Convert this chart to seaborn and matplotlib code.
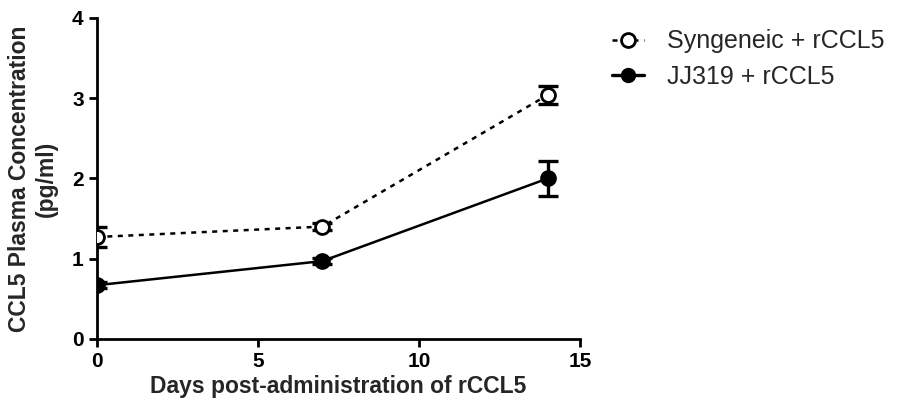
import matplotlib
matplotlib.use("Agg")
import matplotlib.pyplot as plt
import seaborn as sns
import pandas as pd
from matplotlib.lines import Line2D

# Plasma CCL5 after rCCL5 administration (mean ± SEM)
days = [0, 7, 14]
syngeneic_mean = [1.27, 1.40, 3.04]
syngeneic_sem = [0.13, 0.04, 0.11]
jj319_mean = [0.67, 0.97, 2.00]
jj319_sem = [0.04, 0.04, 0.22]
group_names = ["Syngeneic + rCCL5", "JJ319 + rCCL5"]
x_ticks = [0, 5, 10, 15]
y_ticks = [0, 1, 2, 3, 4]

df = pd.DataFrame({
    "day": days * 2,
    "conc": syngeneic_mean + jj319_mean,
    "sem": syngeneic_sem + jj319_sem,
    "group": [group_names[0]] * 3 + [group_names[1]] * 3,
})

sns.set_style("ticks")
plt.rcParams["font.family"] = ["Liberation Sans", "DejaVu Sans"]

fig = plt.figure(figsize=(9.05, 4.05), dpi=100)
ax = fig.add_axes([0.107, 0.163, 0.534, 0.793])

dotted = (0, (2, 2.2))
styles = {
    group_names[0]: dict(mfc="white", ls=dotted),
    group_names[1]: dict(mfc="black", ls="-"),
}

for name, sub in df.groupby("group", sort=False):
    st = styles[name]
    ax.errorbar(sub["day"], sub["conc"], yerr=sub["sem"], fmt="none",
                ecolor="black", elinewidth=2.4, capsize=7, capthick=2.4, zorder=2)
    sns.lineplot(data=sub, x="day", y="conc", ax=ax, color="black",
                 linestyle=st["ls"], linewidth=1.8, marker="o", markersize=10,
                 markerfacecolor=st["mfc"], markeredgecolor="black",
                 markeredgewidth=2.0, errorbar=None, zorder=3)

ax.set_xlim(0, 15)
ax.set_ylim(0, 4)
ax.set_xticks(x_ticks)
ax.set_yticks(y_ticks)
for s in ["top", "right"]:
    ax.spines[s].set_visible(False)
for s in ["left", "bottom"]:
    ax.spines[s].set_linewidth(2.0)
    ax.spines[s].set_color("black")
ax.tick_params(axis="both", direction="out", length=6, width=2.0, colors="black",
               labelsize=15)
for lbl in ax.get_xticklabels() + ax.get_yticklabels():
    lbl.set_fontweight("bold")

ax.set_xlabel("Days post-administration of rCCL5", fontsize=16.5,
              fontweight="bold", labelpad=3)
ax.set_ylabel("CCL5 Plasma Concentration\n(pg/ml)", fontsize=16.5,
              fontweight="bold", labelpad=10, linespacing=1.2)

handles = [
    Line2D([], [], color="black", linestyle=dotted, linewidth=1.8,
           marker="o", markersize=10, markerfacecolor="white",
           markeredgecolor="black", markeredgewidth=2.0),
    Line2D([], [], color="black", linestyle="-", linewidth=2.4,
           marker="o", markersize=10, markerfacecolor="black",
           markeredgecolor="black"),
]
fig.legend(handles, group_names, loc="upper left", bbox_to_anchor=(0.651, 0.983),
           frameon=False, fontsize=18, handlelength=1.3, handletextpad=0.9,
           labelspacing=0.45)

fig.savefig("out.png", dpi=100, facecolor="white")
